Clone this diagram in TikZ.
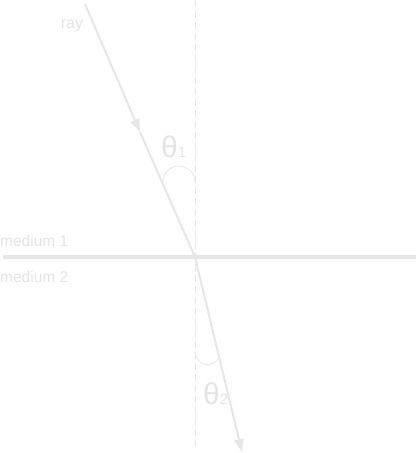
\documentclass[tikz,border=0pt]{standalone}
\usepackage{fontspec}
\setmainfont{Liberation Sans}
\usetikzlibrary{arrows.meta}
\definecolor{paleline}{HTML}{E6E6E6}
\definecolor{paletext}{HTML}{E4E4E4}

\def\unit{1pt}

\begin{document}
\begin{tikzpicture}[x=\unit, y=\unit, every node/.style={text=paletext, inner sep=0pt},
    raypath/.style={paleline, line width=2pt},
    raytip/.style={-{Triangle[length=13pt,width=9pt]}},
    anglearc/.style={paleline, line width=0.8pt}]
      \useasboundingbox (0,0) rectangle (416,453);
      \coordinate (src) at (85,449);
      \coordinate (hit) at (195,196);
      \coordinate (mid) at (140,321);
      \coordinate (out) at (242,1);
      \coordinate (ntop) at (195,453);
      \coordinate (nbot) at (195,2);
      \coordinate (west) at (3,195.5);
      \coordinate (east) at (416,195.5);
      \draw[paleline, line width=1pt, dash pattern=on 7pt off 4pt] (ntop) -- (nbot);
      \draw[paleline, line width=4pt] (west) -- (east);
      \draw[raypath, raytip] (src) -- (mid);
      \draw[raypath] (mid) -- (hit);
      \draw[raypath, raytip] (hit) -- (out);
      \draw[anglearc] (163,271) arc[start angle=180, end angle=0, radius=16];
      \draw[anglearc] (195,101) arc[start angle=180, end angle=335, radius=12.6];
      \node[anchor=base] (raylabel) at (72,424) {\fontsize{16}{16}\selectfont ray};
      \node[anchor=base west] (medtop) at (0,206) {\fontsize{15.5}{16}\selectfont medium 1};
      \node[anchor=base west] (medbot) at (0,170) {\fontsize{15.5}{16}\selectfont medium 2};
      \node[anchor=base west] (thetaone) at (161,295) {\fontsize{30}{30}\selectfont θ\fontsize{15}{15}\selectfont 1};
      \node[anchor=base west] (thetatwo) at (203,48) {\fontsize{30}{30}\selectfont θ\fontsize{15}{15}\selectfont 2};
    \end{tikzpicture}
\end{document}
